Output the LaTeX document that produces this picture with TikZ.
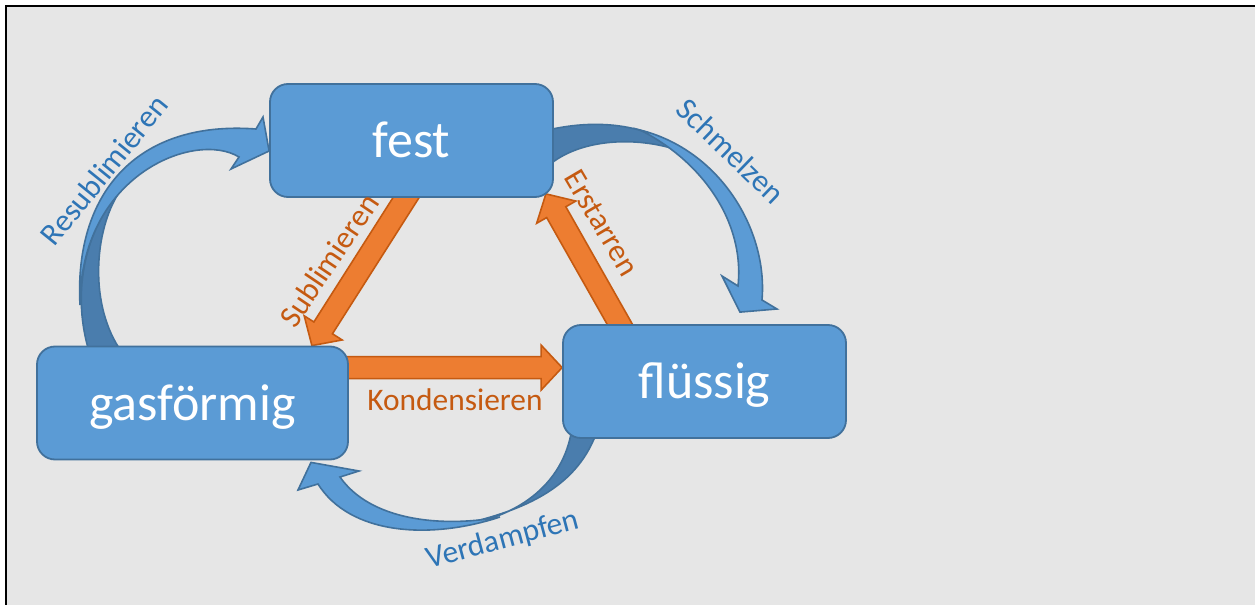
\documentclass[tikz,border=0pt]{standalone}
\usepackage{fontspec}
\setmainfont{Carlito}
\usetikzlibrary{calc, backgrounds}

\definecolor{boxfill}{HTML}{5B9BD5}
\definecolor{boxline}{HTML}{41719C}
\definecolor{boxdark}{HTML}{4A7DAD}
\definecolor{flowfill}{HTML}{ED7D31}
\definecolor{flowline}{HTML}{C55A11}
\definecolor{flowtext}{HTML}{C55A11}
\definecolor{curvetext}{HTML}{2E75B6}
\definecolor{paper}{HTML}{E6E6E6}

\tikzset{
  phasebox/.style={draw=boxline, fill=boxfill, line width=0.9pt,
    rounded corners=9pt, text=white, font=\fontsize{26}{30}\selectfont,
    text height=20pt, text depth=3pt, minimum height=56.5pt, inner sep=0pt},
  flowarrow/.style={draw=flowline, fill=flowfill, line width=0.8pt},
  curvefront/.style={draw=boxline, fill=boxfill, line width=0.8pt},
  curveback/.style={draw=boxline, fill=boxdark, line width=0.8pt}
}

% straight block arrow from #1 to #2
\newcommand\blockarrow[2]{%
  \filldraw[flowarrow] ($(#1)!5.5pt!90:(#2)$)
    -- ($(#2)!10.5pt!(#1)!5.5pt!90:(#2)$)
    -- ($(#2)!10.5pt!(#1)!11.25pt!90:(#2)$)
    -- (#2)
    -- ($(#2)!10.5pt!(#1)!11.25pt!-90:(#2)$)
    -- ($(#2)!10.5pt!(#1)!5.5pt!-90:(#2)$)
    -- ($(#1)!5.5pt!-90:(#2)$) -- cycle;}

\begin{document}
\begin{tikzpicture}[x=0.5pt, y=-0.5pt]
\useasboundingbox (0,0) rectangle (1255,605);

\begin{scope}[every node/.style={phasebox}]
    \node[minimum width=141.5pt] (fest) at (411.5,140.5) {fest};
    \node[minimum width=141.5pt] (fl) at (704.5,381.5) {flüssig};
    \node[minimum width=155.5pt] (gas) at (192.5,403) {gasförmig};
\end{scope}

\begin{scope}[every node/.style={font=\fontsize{15.7}{18}\selectfont, inner sep=0pt}]
    \node[text=curvetext, rotate=51] (resub) at (104,170) {Resublimieren};
    \node[text=curvetext, rotate=-44] (schm) at (731,151) {Schmelzen};
    \node[text=curvetext, rotate=15] (verd) at (503,540) {Verdampfen};
    \node[text=flowtext, rotate=56] (subl) at (329,260) {Sublimieren};
    \node[text=flowtext, rotate=-59.5] (erst) at (602,223) {Erstarren};
    \node[text=flowtext, anchor=base] (kond) at (455,410) {Kondensieren};
\end{scope}

% ends of the arrows
\coordinate (subA) at ([shift={(1pt,6pt)}]fest.south);
\coordinate (subB) at ([xshift=-18.5pt]gas.north east);
\coordinate (erstA) at ([shift={(-39pt,-6pt)}]fl.north);
\coordinate (erstB) at ([shift={(-4pt,2pt)}]fest.south east);
\coordinate (kondA) at ([shift={(-5pt,-11pt)}]gas.north east);
\coordinate (kondB) at (kondA -| fl.west);
\coordinate (resB) at ([yshift=-5.25pt]fest.west);
\coordinate (schB) at ([shift={(17.75pt,6pt)}]fl.north);
\coordinate (verB) at ([shift={(59.25pt,-1pt)}]gas.south);

\begin{scope}[on background layer]
    \fill[white] (0,0) rectangle (1255,605);
    \fill[paper] (6,6) rectangle (1255,605);
    \draw[line width=1pt] (6,605) -- (6,6) -- (1255,6);

    \blockarrow{subA}{subB}
    \blockarrow{erstA}{erstB}
    \blockarrow{kondA}{kondB}

    % Resublimieren
    \filldraw[curveback] (88,348) .. controls (72,290) and (85,230) .. (122,188)
      .. controls (95,225) and (88,300) .. (119,348) -- cycle;
    \filldraw[curvefront] (80,305) .. controls (74,195) and (135,120) .. (256,129)
      -- (263,117) -- (resB) -- (231,169) -- (239,157)
      .. controls (195,130) and (80,175) .. (80,305) -- cycle;

    % Schmelzen
    \filldraw[curveback] (548,130) .. controls (600,118) and (650,125) .. (686,153)
      .. controls (640,135) and (580,138) .. (548,166) -- cycle;
    \filldraw[curvefront] (640,130) .. controls (720,150) and (768,230) .. (762,300)
      -- (777,309) -- (schB) -- (722,276) -- (738,286)
      .. controls (745,220) and (700,160) .. (640,130) -- cycle;

    % Verdampfen
    \filldraw[curveback] (571,434) .. controls (560,490) and (510,520) .. (455,526)
      .. controls (520,512) and (575,490) .. (596,434) -- cycle;
    \filldraw[curvefront] (500,517) .. controls (430,540) and (350,535) .. (318,484)
      -- (298,490) -- (verB) -- (359,471) -- (340,477)
      .. controls (370,520) and (440,528) .. (500,517) -- cycle;
\end{scope}
\end{tikzpicture}
\end{document}
